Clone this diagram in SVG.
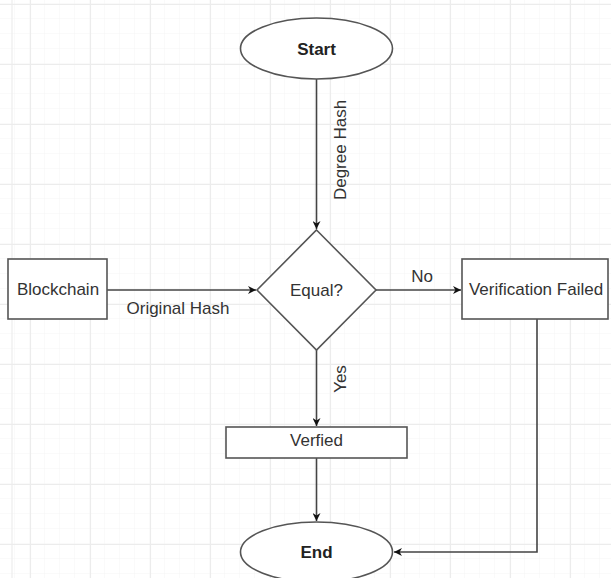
<svg xmlns="http://www.w3.org/2000/svg" width="611" height="578" viewBox="0 0 611 578">
<defs>
<pattern id="minor" x="0" y="4" width="15" height="15" patternUnits="userSpaceOnUse">
<path d="M15 0V15M0 15H15" fill="none" stroke="#f5f5f5" stroke-width="1"/>
</pattern>
<pattern id="major" x="30" y="4" width="60" height="60" patternUnits="userSpaceOnUse">
<path d="M0.5 0V60M0 0.5H60" fill="none" stroke="#ececec" stroke-width="1.2"/>
</pattern>
<marker id="arr" viewBox="0 0 10 10" refX="10" refY="5" markerWidth="8" markerHeight="8" markerUnits="userSpaceOnUse" orient="auto">
<path d="M0 0L10 5L0 10L3 5Z" fill="#111"/>
</marker>
<style>
.shape{fill:#fff;stroke:#555;stroke-width:1.6}
.edge{fill:none;stroke:#444;stroke-width:1.6}
.t{font-family:"Liberation Sans",Arial,sans-serif;font-size:17px;fill:#333;text-anchor:middle;dominant-baseline:central}
.b{font-weight:bold;fill:#222}
</style>
</defs>
<rect width="611" height="578" fill="#fff"/>
<rect width="611" height="578" fill="url(#minor)"/>
<rect width="611" height="578" fill="url(#major)"/>
<line x1="12" y1="0" x2="12" y2="578" stroke="#ededed" stroke-width="1.2"/>

<g id="edges">
<path class="edge" d="M316.5 79V229" marker-end="url(#arr)"/>
<path class="edge" d="M107 290H256" marker-end="url(#arr)"/>
<path class="edge" d="M376 290H461" marker-end="url(#arr)"/>
<path class="edge" d="M316.5 350V426" marker-end="url(#arr)"/>
<path class="edge" d="M316.5 458V521" marker-end="url(#arr)"/>
<path class="edge" d="M537 319V552H394" marker-end="url(#arr)"/>
<text class="t" transform="translate(340 150) rotate(-90)">Degree Hash</text>
<text class="t" x="178" y="308">Original Hash</text>
<text class="t" x="422" y="276">No</text>
<text class="t" transform="translate(340 379) rotate(-90)">Yes</text>
</g>

<g id="start">
<ellipse class="shape" cx="316.5" cy="48.5" rx="76" ry="30.5"/>
<text class="t b" x="316.5" y="49">Start</text>
</g>
<g id="blockchain">
<rect class="shape" x="8" y="259" width="99" height="60"/>
<text class="t" x="58" y="289">Blockchain</text>
</g>
<g id="equal">
<polygon class="shape" points="316.5,230 376,290 316.5,350 257,290"/>
<text class="t" x="316.5" y="290">Equal?</text>
</g>
<g id="failed">
<rect class="shape" x="462" y="259" width="146" height="60"/>
<text class="t" x="536" y="289">Verification Failed</text>
</g>
<g id="verified">
<rect class="shape" x="226" y="427" width="181" height="31"/>
<text class="t" x="316.5" y="440">Verfied</text>
</g>
<g id="end">
<ellipse class="shape" cx="316.5" cy="552" rx="76" ry="30"/>
<text class="t b" x="316.5" y="552">End</text>
</g>
</svg>
